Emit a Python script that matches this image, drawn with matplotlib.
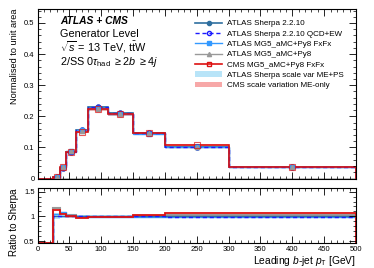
import numpy as np
import matplotlib
matplotlib.use("Agg")
import matplotlib.pyplot as plt
from matplotlib.lines import Line2D
from matplotlib.patches import Patch
from matplotlib.ticker import MultipleLocator

plt.rcParams['font.family'] = ['Liberation Sans', 'DejaVu Sans']
plt.rcParams['mathtext.fontset'] = 'custom'
plt.rcParams['mathtext.rm'] = 'Liberation Sans'
plt.rcParams['mathtext.it'] = 'Liberation Sans:italic'

edges = [0, 25, 35, 45, 60, 80, 110, 150, 200, 300, 500]
sherpa    = [0, 0.005, 0.034, 0.086, 0.156, 0.229, 0.209, 0.145, 0.101, 0.036]
sherpa_ew = [0, 0.005, 0.034, 0.086, 0.156, 0.229, 0.210, 0.145, 0.100, 0.036]
mg5_fxfx  = [0, 0.0052, 0.036, 0.087, 0.157, 0.228, 0.208, 0.144, 0.100, 0.036]
mg5_py8   = [0, 0.0058, 0.036, 0.088, 0.154, 0.225, 0.207, 0.145, 0.102, 0.037]
cms       = [0, 0.0056, 0.036, 0.086, 0.151, 0.224, 0.207, 0.147, 0.108, 0.038]
sherpa_band = [0, 0.0004, 0.002, 0.003, 0.004, 0.005, 0.004, 0.003, 0.003, 0.002]
cms_band    = [0, 0.0004, 0.002, 0.003, 0.005, 0.006, 0.005, 0.004, 0.004, 0.002]

r_ew   = [0.47, 1.0, 1.0, 1.0, 1.0, 1.0, 1.0, 1.0, 0.99, 0.99]
r_fxfx = [0.47, 1.04, 1.08, 1.02, 1.0, 0.99, 0.99, 0.99, 0.99, 0.99]
r_py8  = [0.47, 1.17, 1.06, 1.02, 0.99, 0.98, 0.99, 1.0, 1.02, 1.03]
r_cms  = [0.47, 1.12, 1.05, 1.0, 0.97, 0.98, 0.99, 1.02, 1.07, 1.06]
r_sherpa_band = [0, 0.06, 0.03, 0.02, 0.02, 0.02, 0.02, 0.02, 0.02, 0.02]
r_cms_band    = [0, 0.04, 0.03, 0.03, 0.03, 0.03, 0.03, 0.03, 0.03, 0.03]

e = np.array(edges, dtype=float)
centers = 0.5 * (e[1:] + e[:-1])

c_sherpa = '#2f6f9f'
c_ew = '#1a1aff'
c_fxfx = '#3399ff'
c_py8 = '#999999'
c_cms = '#dd1111'
c_sband = '#b8e4f8'
c_cband = '#f7a8a8'

fig = plt.figure(figsize=(3.74, 2.68), dpi=100)
W, H = 374, 268
ax = fig.add_axes([37.5 / W, 1 - 178.5 / H, (356 - 37.5) / W, (178.5 - 9) / H])
axr = fig.add_axes([37.5 / W, 1 - 243 / H, (356 - 37.5) / W, (243 - 188) / H])

def band(a, vals, err, color, alpha=1.0):
    v = np.array(vals); er = np.array(err)
    a.stairs(v + er, e, baseline=v - er, fill=True, color=color, lw=0, alpha=alpha)

# main
band(ax, sherpa, sherpa_band, c_sband)
band(ax, cms, cms_band, c_cband, 0.8)
ax.axhline(0, color='#bbbbbb', lw=2, zorder=1)
ax.stairs(mg5_py8, e, color=c_py8, lw=1.0)
ax.stairs(sherpa, e, color=c_sherpa, lw=1.2)
ax.stairs(mg5_fxfx, e, color=c_fxfx, lw=1.0)
ax.stairs(sherpa_ew, e, color=c_ew, lw=1.0, linestyle=(0, (3, 2)))
ax.stairs(cms, e, color=c_cms, lw=1.2)
ax.plot(centers[1:], np.array(sherpa)[1:], 'o', color=c_sherpa, ms=3.5)
ax.plot(centers[1:], np.array(sherpa_ew)[1:], 'o', mfc='none', mec=c_ew, ms=3.5, mew=0.8)
ax.plot(centers[1:], np.array(mg5_fxfx)[1:], 's', color=c_fxfx, ms=3)
ax.plot(centers[1:], np.array(mg5_py8)[1:], '^', color=c_py8, ms=3)
ax.plot(centers[1:], np.array(cms)[1:], 's', mfc='none', mec=c_cms, ms=4, mew=0.8, alpha=0.7)

ax.set_xlim(0, 500)
ax.set_ylim(0, 0.545)
ax.set_xticklabels([])
ax.set_ylabel('Normalised to unit area', fontsize=6.6, loc='top')

# ratio
band(axr, np.ones(10), r_cms_band, c_cband, 0.8)
band(axr, np.ones(10), r_sherpa_band, c_sband)
axr.stairs(r_py8, e, color=c_py8, lw=1.5)
axr.stairs(r_fxfx, e, color=c_fxfx, lw=1.0)
axr.stairs(np.where(np.arange(10) == 0, 0.47, 1.0), e, color=c_sherpa, lw=1.0)
axr.stairs(r_ew, e, color=c_ew, lw=1.0, linestyle=(0, (3, 2)))
axr.stairs(r_cms, e, color=c_cms, lw=1.3)
axr.set_xlim(0, 500)
axr.set_ylim(0.46, 1.575)
axr.set_yticks([0.5, 1, 1.5])
axr.set_yticklabels(['0.5', '1', '1.5'])
axr.set_ylabel('Ratio to Sherpa', fontsize=7, loc='top')
axr.set_xlabel(r'Leading $b$-jet $p_{\mathrm{T}}$ [GeV]', fontsize=7.4, loc='right', labelpad=1)

for a in (ax, axr):
    a.xaxis.set_major_locator(MultipleLocator(50))
    a.xaxis.set_minor_locator(MultipleLocator(10))
    a.tick_params(which='both', direction='in', top=True, right=True, labelsize=5.5, pad=2)
    a.tick_params(which='major', length=5, width=0.6)
    a.tick_params(which='minor', length=2.5, width=0.5)
    for s in a.spines.values():
        s.set_linewidth(0.8)
ax.yaxis.set_major_locator(MultipleLocator(0.1))
ax.yaxis.set_minor_locator(MultipleLocator(0.02))
axr.yaxis.set_minor_locator(MultipleLocator(0.1))
ax.yaxis.set_major_formatter(matplotlib.ticker.FuncFormatter(lambda v, p: '0' if v == 0 else f'{v:.1f}'))

# text
ax.text(0.072, 0.93, 'ATLAS + CMS', transform=ax.transAxes, fontsize=7.4, fontweight='bold', style='italic', va='center')
ax.text(0.072, 0.85, 'Generator Level', transform=ax.transAxes, fontsize=7.8, va='center')
ax.text(0.072, 0.775, r'$\sqrt{s}$ = 13 TeV, t$\bar{\mathrm{t}}$W', transform=ax.transAxes, fontsize=7.8, va='center')
ax.text(0.072, 0.69, r'2/SS 0$\tau_{\mathrm{had}}$ $\geq$2$b$ $\geq$4$j$', transform=ax.transAxes, fontsize=7.8, va='center')

handles = [
    Line2D([], [], color=c_sherpa, marker='o', ms=3, lw=1.2),
    Line2D([], [], color=c_ew, marker='o', mfc='none', ms=3, lw=1.0, linestyle=(0, (3, 2))),
    Line2D([], [], color=c_fxfx, marker='s', ms=3, lw=1.0),
    Line2D([], [], color=c_py8, marker='^', ms=3, lw=1.0),
    Line2D([], [], color=c_cms, marker='s', mfc='none', ms=3.5, lw=1.2),
    Patch(facecolor=c_sband, lw=0),
    Patch(facecolor=c_cband, lw=0),
]
labels = ['ATLAS Sherpa 2.2.10', 'ATLAS Sherpa 2.2.10 QCD+EW', 'ATLAS MG5_aMC+Py8 FxFx',
          'ATLAS MG5_aMC+Py8', 'CMS MG5_aMC+Py8 FxFx', 'ATLAS Sherpa scale var ME+PS',
          'CMS scale variation ME-only']
ax.legend(handles, labels, loc='upper left', bbox_to_anchor=(0.485, 0.955), fontsize=5.8,
          frameon=False, handlelength=3.35, handletextpad=0.6, labelspacing=0.33, borderaxespad=0)

fig.savefig('out.png', dpi=100)
